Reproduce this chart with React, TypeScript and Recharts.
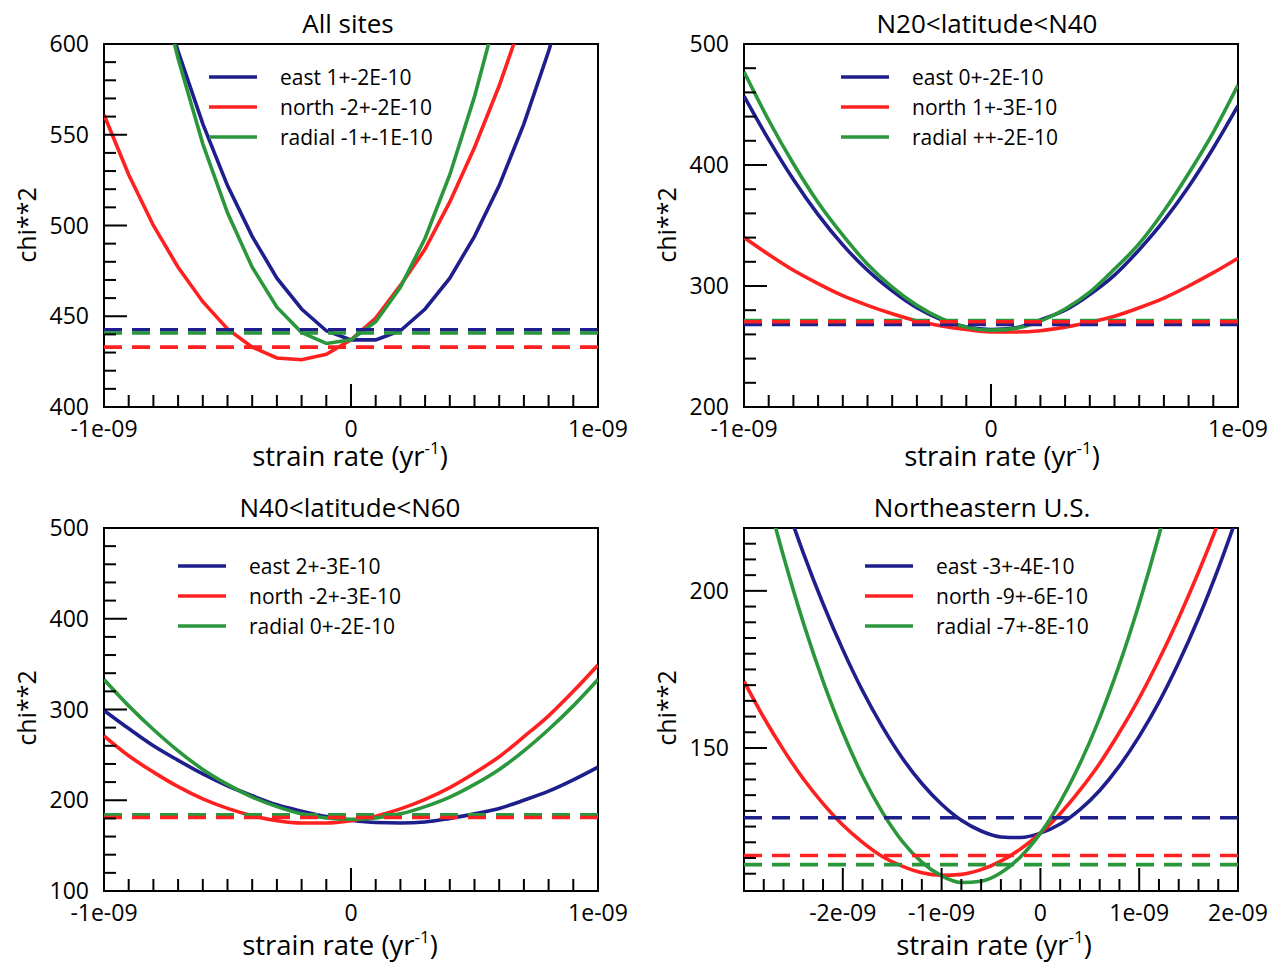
import React from 'react';
import { LineChart, Line, XAxis, YAxis, ReferenceLine, ReferenceArea, Legend } from 'recharts';

const FONT = "'Open Sans', 'DejaVu Sans', sans-serif";
const COLORS = ['#1e1e8c', '#ff2020', '#2a973c']; // east, north, radial

// strain rate samples, in units of 1e-10 /yr
const rateTen = [-10, -9, -8, -7, -6, -5, -4, -3, -2, -1, 0, 1, 2, 3, 4, 5, 6, 7, 8, 9, 10];
const rateNE = [-30, -28, -26, -24, -22, -20, -18, -16, -14, -12, -10, -8, -6, -4, -2, 0, 2, 4, 6, 8, 10, 12, 14, 16, 18, 20];

// All sites
const allEast = [749, 692, 641, 596, 556, 522, 494, 471, 454, 442, 437, 437, 442, 454, 471, 494, 522, 556, 596, 641, 692];
const allNorth = [561, 528, 500, 477, 458, 443, 433, 427, 426, 429, 437, 449, 467, 487, 513, 543, 577, 616, 660, 708, 760];
const allRadial = [781, 710, 647, 592, 545, 507, 477, 455, 441, 435, 437, 447, 466, 493, 528, 571, 622, 681, 748, 824, 908];
const allLevels = [442.6, 433, 440.8];
const allLabels = ['east 1+-2E-10', 'north -2+-2E-10', 'radial -1+-1E-10'];

// N20<latitude<N40
const lowEast = [457, 421, 388, 359, 334, 313, 296, 282, 272, 266, 264, 265.5, 272, 280, 293, 309, 330, 354, 382, 414, 449];
const lowNorth = [340, 326, 313, 302, 292, 284, 277, 271, 267, 264, 262, 262, 263, 266, 270, 275, 282, 290, 300, 311, 323];
const lowRadial = [477, 437, 401, 369, 342, 318, 299, 284, 273, 266, 263.5, 265, 271, 281, 295, 314, 335, 362, 393, 427, 466];
const lowLevels = [268.2, 270.5, 271.5];
const lowLabels = ['east 0+-2E-10', 'north 1+-3E-10', 'radial ++-2E-10'];

// N40<latitude<N60
const midEast = [299, 279, 260, 244, 229, 216, 205, 195, 188, 182, 178, 175.5, 175, 176, 180, 185, 191, 200, 210, 222.5, 236.5];
const midNorth = [271, 249, 231, 215, 201.5, 191, 183, 177.5, 175, 175, 177.5, 182.5, 190.5, 201, 214, 230, 248, 270, 293, 320, 349];
const midRadial = [333, 304, 278, 254.5, 234, 217.5, 203.5, 193, 185, 180.5, 179, 180.5, 185, 193, 203.5, 217.5, 234, 254.5, 278, 304, 333];
const midLevels = [182.5, 181, 184];
const midLabels = ['east 2+-3E-10', 'north -2+-3E-10', 'radial 0+-2E-10'];

// Northeastern U.S.
const neEast = [270.5, 249.4, 230, 212.1, 195.9, 181.3, 168.2, 156.8, 146.9, 138.7, 132.1, 127, 123.6, 121.7, 121.5, 122.9, 125.8, 130.4, 136.5, 144.3, 153.7, 164.6, 177.2, 191.3, 207.1, 224.5];
const neNorth = [171.2, 159.7, 149.4, 140.2, 132.3, 125.5, 120, 115.5, 112.4, 110.3, 109.5, 109.8, 111.3, 114, 117.9, 122.9, 129.1, 136.6, 145.1, 155, 165.9, 178.1, 191.4, 205.9, 221.6, 238.5];
const neRadial = [260.1, 234.4, 211, 189.9, 171.3, 155, 141.1, 129.6, 120.4, 113.7, 109.3, 107.2, 107.6, 110.3, 115.4, 122.9, 132.8, 145, 159.6, 176.6, 196, 217.7, 241.8, 268.3, 297.2, 328.4];
const neLevels = [127.8, 115.8, 112.9];
const neLabels = ['east -3+-4E-10', 'north -9+-6E-10', 'radial -7+-8E-10'];

// ticks
const tenTicks = rateTen;
const tenMajor = [-10, 0, 10];
const neXTicks = rateNE;
const neXMajor = [-20, -10, 0, 10, 20];
const allYTicks = [400, 410, 420, 430, 440, 450, 460, 470, 480, 490, 500, 510, 520, 530, 540, 550, 560, 570, 580, 590, 600];
const allYMajor = [400, 450, 500, 550, 600];
const lowYTicks = [200, 220, 240, 260, 280, 300, 320, 340, 360, 380, 400, 420, 440, 460, 480, 500];
const lowYMajor = [200, 300, 400, 500];
const midYTicks = [100, 120, 140, 160, 180, 200, 220, 240, 260, 280, 300, 320, 340, 360, 380, 400, 420, 440, 460, 480, 500];
const midYMajor = [100, 200, 300, 400, 500];
const neYTicks = [110, 115, 120, 125, 130, 135, 140, 145, 150, 155, 160, 165, 170, 175, 180, 185, 190, 195, 200, 205, 210, 215];
const neYMajor = [150, 200];

const W = 634;
const H = 484;

const fmtRate = (v: number) => (v === 0 ? '0' : `${v / 10}e-09`);

const yTick = (majors: number[]) => (p: any) => {
  const { x, y, payload } = p;
  const major = majors.includes(payload.value);
  return (
    <g>
      <line x1={x} y1={y} x2={x + (major ? 23 : 12)} y2={y} stroke="#000" strokeWidth={2} />
      {major && (
        <text x={x - 15} y={y + 8} textAnchor="end" fontSize={23} fontFamily={FONT} fill="#000">
          {payload.value}
        </text>
      )}
    </g>
  );
};

const xTick = (majors: number[]) => (p: any) => {
  const { x, y, payload } = p;
  const major = majors.includes(payload.value);
  return (
    <g>
      <line x1={x} y1={y} x2={x} y2={y - (major ? 23 : 12)} stroke="#000" strokeWidth={2} />
      {major && (
        <text x={x} y={y + 30} textAnchor="middle" fontSize={23} fontFamily={FONT} fill="#000">
          {fmtRate(payload.value)}
        </text>
      )}
    </g>
  );
};

const legendContent = (labels: string[]) => () => (
  <div style={{ fontFamily: FONT, fontSize: 21, color: '#000' }}>
    {labels.map((label, i) => (
      <div key={label} style={{ display: 'flex', alignItems: 'center', height: 30 }}>
        <svg width={48} height={6} style={{ display: 'block' }}>
          <line x1={0} y1={3} x2={48} y2={3} stroke={COLORS[i]} strokeWidth={3.5} />
        </svg>
        <span style={{ marginLeft: 23, lineHeight: '30px', whiteSpace: 'nowrap' }}>{label}</span>
      </div>
    ))}
  </div>
);

interface PanelProps {
  left: number;
  top: number;
  title: string;
  titleX: number;
  xTitleX: number;
  xTitleY: number;
  chiY: number;
  rate: number[];
  east: number[];
  north: number[];
  radial: number[];
  levels: number[];
  labels: string[];
  xDomain: [number, number];
  yDomain: [number, number];
  xTicks: number[];
  xMajor: number[];
  yTicks: number[];
  yMajor: number[];
  curve: 'linear' | 'monotone';
  legendLeft: number;
  legendTop: number;
}

const Panel: React.FC<PanelProps> = (pp) => {
  const rows = pp.rate.map((x, i) => ({ x, east: pp.east[i], north: pp.north[i], radial: pp.radial[i] }));
  const keys = ['east', 'north', 'radial'];
  const centered: React.CSSProperties = {
    position: 'absolute',
    transform: 'translate(-50%, -50%)',
    whiteSpace: 'nowrap',
    lineHeight: 1,
    fontFamily: FONT,
    color: '#000',
    pointerEvents: 'none',
  };
  return (
    <div style={{ position: 'absolute', left: pp.left, top: pp.top, width: W, height: H }}>
      <LineChart width={W} height={H} data={rows} margin={{ top: 44, left: 103, right: 36, bottom: 76 }}>
        <XAxis
          dataKey="x"
          type="number"
          domain={pp.xDomain}
          ticks={pp.xTicks}
          interval={0}
          height={1}
          tickSize={0}
          tickMargin={0}
          tickLine={false}
          axisLine={false}
          tick={xTick(pp.xMajor)}
          allowDataOverflow
        />
        <YAxis
          type="number"
          domain={pp.yDomain}
          ticks={pp.yTicks}
          interval={0}
          width={1}
          tickSize={0}
          tickMargin={0}
          tickLine={false}
          axisLine={false}
          tick={yTick(pp.yMajor)}
          allowDataOverflow
        />
        {keys.map((k, i) => (
          <Line
            key={k}
            type={pp.curve}
            dataKey={k}
            stroke={COLORS[i]}
            strokeWidth={3.6}
            dot={false}
            activeDot={false}
            isAnimationActive={false}
          />
        ))}
        {[0, 2, 1].map((i) => (
          <ReferenceLine key={i} y={pp.levels[i]} stroke={COLORS[i]} strokeWidth={3.6} strokeDasharray="18 10" />
        ))}
        <ReferenceArea
          x1={pp.xDomain[0]}
          x2={pp.xDomain[1]}
          y1={pp.yDomain[0]}
          y2={pp.yDomain[1]}
          fill="none"
          fillOpacity={0}
          stroke="#000"
          strokeWidth={2}
          ifOverflow="visible"
        />
        <Legend
          layout="vertical"
          align="center"
          verticalAlign="middle"
          content={legendContent(pp.labels)}
          wrapperStyle={{ left: pp.legendLeft, top: pp.legendTop, width: 280, height: 90, margin: 0 }}
        />
      </LineChart>
      <div style={{ ...centered, left: pp.titleX, top: 22.5, fontSize: 26 }}>{pp.title}</div>
      <div style={{ ...centered, left: pp.xTitleX, top: pp.xTitleY, fontSize: 27.5 }}>
        strain rate (yr
        <sup style={{ fontSize: 17, verticalAlign: 'baseline', position: 'relative', top: -12 }}>-1</sup>)
      </div>
      <div
        style={{ ...centered, left: 26, top: pp.chiY, fontSize: 25, transform: 'translate(-50%, -50%) rotate(-90deg)' }}
      >
        chi**2
      </div>
    </div>
  );
};

export default function App() {
  return (
    <div style={{ position: 'absolute', left: 0, top: 0, width: 1268, height: 962, background: '#fff', overflow: 'hidden' }}>
      <Panel
        left={0}
        top={0}
        title="All sites"
        titleX={348}
        xTitleX={350}
        xTitleY={456}
        chiY={225}
        rate={rateTen}
        east={allEast}
        north={allNorth}
        radial={allRadial}
        levels={allLevels}
        labels={allLabels}
        xDomain={[-10, 10]}
        yDomain={[400, 600]}
        xTicks={tenTicks}
        xMajor={tenMajor}
        yTicks={allYTicks}
        yMajor={allYMajor}
        curve="linear"
        legendLeft={209}
        legendTop={62}
      />
      <Panel
        left={640}
        top={0}
        title="N20<latitude<N40"
        titleX={347}
        xTitleX={362}
        xTitleY={456}
        chiY={225}
        rate={rateTen}
        east={lowEast}
        north={lowNorth}
        radial={lowRadial}
        levels={lowLevels}
        labels={lowLabels}
        xDomain={[-10, 10]}
        yDomain={[200, 500]}
        xTicks={tenTicks}
        xMajor={tenMajor}
        yTicks={lowYTicks}
        yMajor={lowYMajor}
        curve="monotone"
        legendLeft={201}
        legendTop={62}
      />
      <Panel
        left={0}
        top={484}
        title="N40<latitude<N60"
        titleX={350}
        xTitleX={340}
        xTitleY={461}
        chiY={224}
        rate={rateTen}
        east={midEast}
        north={midNorth}
        radial={midRadial}
        levels={midLevels}
        labels={midLabels}
        xDomain={[-10, 10]}
        yDomain={[100, 500]}
        xTicks={tenTicks}
        xMajor={tenMajor}
        yTicks={midYTicks}
        yMajor={midYMajor}
        curve="monotone"
        legendLeft={178}
        legendTop={67}
      />
      <Panel
        left={640}
        top={484}
        title="Northeastern U.S."
        titleX={342}
        xTitleX={354}
        xTitleY={461}
        chiY={224}
        rate={rateNE}
        east={neEast}
        north={neNorth}
        radial={neRadial}
        levels={neLevels}
        labels={neLabels}
        xDomain={[-30, 20]}
        yDomain={[104.5, 220]}
        xTicks={neXTicks}
        xMajor={neXMajor}
        yTicks={neYTicks}
        yMajor={neYMajor}
        curve="monotone"
        legendLeft={225}
        legendTop={67}
      />
    </div>
  );
}
